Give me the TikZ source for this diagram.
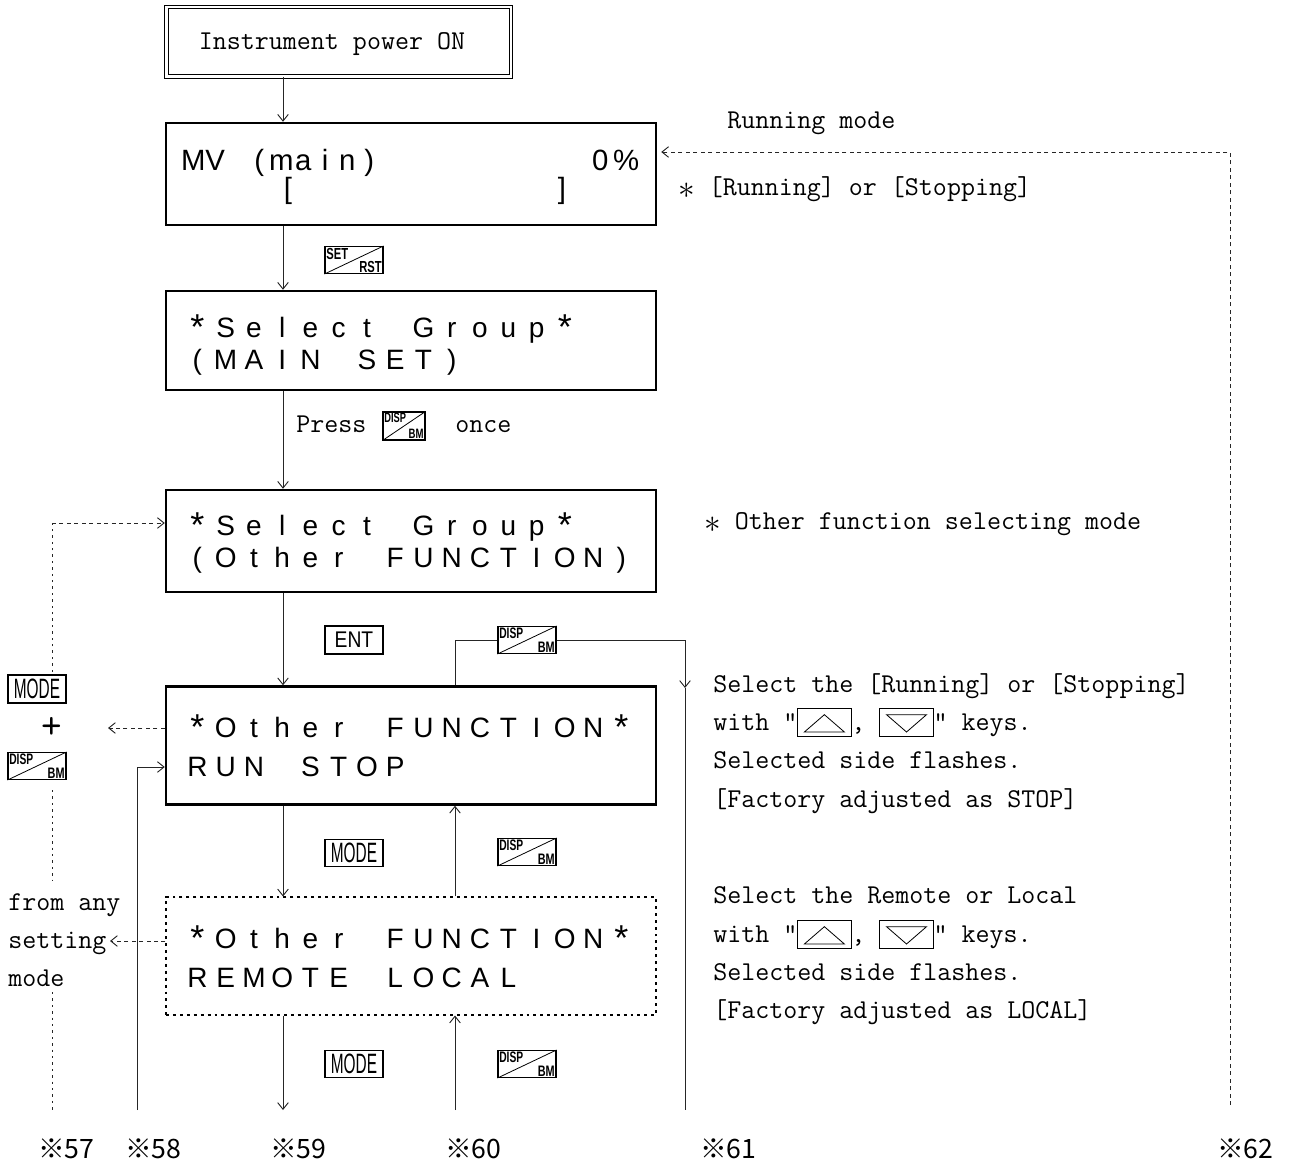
\documentclass[tikz,border=0pt]{standalone}
\usepackage{fontspec}
\usepackage{graphicx}
\usetikzlibrary{arrows.meta,calc}
\newfontfamily\lcdfont{Liberation Sans}
\newfontfamily\cjkfont{Noto Sans CJK JP}
\newlength\lcdw
\newcommand\lcdrow[2]{\setlength\lcdw{#1}\lcdloop#2\relax}
\def\lcdloop#1{\ifx#1\relax\else\makebox[\lcdw][c]{#1}\expandafter\lcdloop\fi}
\newcommand\lst{\raisebox{-2pt}{\fontsize{27pt}{27pt}\selectfont *}}
\newcommand\bigast{\raisebox{-2.5pt}{\fontsize{26pt}{26pt}\selectfont$\ast$}}
\newcommand\upkey{\tikz[x=1pt,y=1pt,baseline=0pt,line width=0.6pt]{\draw (0,-5) rectangle (40,16); \draw (5,-1.5) -- (35,-1.5) -- (20,11.5) -- cycle;}}
\newcommand\dnkey{\tikz[x=1pt,y=1pt,baseline=0pt,line width=0.6pt]{\draw (0,-5) rectangle (40,16); \draw (5,11.5) -- (35,11.5) -- (20,-1.5) -- cycle;}}
\newcommand\dkey[5][dk]{%
  \node[#1] (#2) at (#3) {};
  \draw[kline] (#2.south west) -- (#2.north east);
  \node[ktxt,anchor=north west] (#2-t) at (#2.north west) {#4};
  \node[ktxt,anchor=south east] (#2-b) at (#2.south east) {#5};}
\begin{document}
\begin{tikzpicture}[x=0.75pt,y=-0.75pt,
 conn/.style={line width=0.7pt, draw=black!85},
 arr/.style={conn, -{Straight Barb[length=5pt,width=8pt]}},
 dsh/.style={dash pattern=on 3pt off 2.6pt},
 dotln/.style={dash pattern=on 1.8pt off 3pt},
 bigbox/.style={draw, line width=1.8pt, minimum width=367.5pt, inner sep=0},
 dbox/.style={draw, line width=0.8pt, dash pattern=on 2.2pt off 3pt, minimum width=367.5pt, inner sep=0},
 dbl/.style={draw, double, double distance=2pt, line width=0.7pt, minimum width=258.4pt, minimum height=52.1pt, inner sep=0},
 mono/.style={font=\ttfamily\fontsize{20.4pt}{24pt}\selectfont, inner sep=0, anchor=base west},
 lcd/.style={font=\lcdfont\fontsize{21pt}{24pt}\selectfont, inner sep=0, anchor=base west},
 lcdb/.style={font=\lcdfont\fontsize{22pt}{24pt}\selectfont, inner sep=0, anchor=base west},
 dk/.style={draw, line width=0.8pt, minimum width=43.5pt, minimum height=20.25pt, inner sep=0},
 dks/.style={dk, minimum width=31.5pt, minimum height=21pt},
 kline/.style={line width=0.6pt},
 ktxt/.style={font=\lcdfont\bfseries\fontsize{12pt}{12pt}\selectfont, inner sep=1.2pt},
 tkey/.style={draw, line width=0.8pt, minimum width=43.5pt, minimum height=20.25pt, inner sep=0, font=\lcdfont\fontsize{21pt}{21pt}\selectfont},
 lab/.style={font=\cjkfont\fontsize{20pt}{22pt}\selectfont, inner sep=0, anchor=base west}
]
\useasboundingbox (0,0) rectangle (1289,1163);

% main boxes
\node[dbl] (pw) at (338.75,41.75) {};
\node[mono, anchor=base] (pwt) at (332,50) {Instrument power ON};

\node[bigbox, minimum height=76.5pt] (mv) at (411,174) {};
\node[lcdb] (mv1) at (182,170) {\lcdrow{16.5pt}{MV~(main)}};
\node[lcdb] (mv2) at (587,170) {\lcdrow{19.5pt}{0\%}};
\node[lcdb, anchor=base] (mv3) at (288,198) {[};
\node[lcdb, anchor=base] (mv4) at (562,198) {]};

\node[bigbox, minimum height=74.25pt] (b3) at (411,340.5) {};
\node[lcd] (b3a) at (183,337) {\lcdrow{21.2pt}{\lst Select~Group\lst}};
\node[lcd] (b3b) at (183,369) {\lcdrow{21.2pt}{(MAIN~SET)}};

\node[bigbox, minimum height=76.5pt] (b4) at (411,541) {};
\node[lcd] (b4a) at (183,535) {\lcdrow{21.2pt}{\lst Select~Group\lst}};
\node[lcd] (b4b) at (183,567) {\lcdrow{21.2pt}{(Other~FUNCTION)}};

\node[bigbox, minimum height=88.5pt] (b5) at (411,745.5) {};
\node[lcd] (b5a) at (183,737) {\lcdrow{21.2pt}{\lst Other~FUNCTION\lst}};
\node[lcd] (b5b) at (183,776) {\lcdrow{21.2pt}{RUN~STOP}};

\node[dbox, minimum height=88.5pt] (b6) at (411,956) {};
\node[lcd] (b6a) at (183,948) {\lcdrow{21.2pt}{\lst Other~FUNCTION\lst}};
\node[lcd] (b6b) at (183,987) {\lcdrow{21.2pt}{REMOTE~LOCAL}};

% keys
\dkey{kset}{354,260}{\scalebox{0.7}[1]{SET}}{\scalebox{0.7}[1]{RST}}
\dkey[dks]{kp}{404,426}{\scalebox{0.58}[0.85]{DISP}}{\scalebox{0.6}[0.85]{BM}}
\node[tkey, minimum height=21pt] (kent) at (354,640) {\scalebox{0.85}[1]{\fontsize{17pt}{17pt}\selectfont ENT}};
\dkey{kd1}{527,640}{\scalebox{0.64}[0.95]{DISP}}{\scalebox{0.68}[0.95]{BM}}
\node[tkey, minimum height=21pt] (mkL) at (37,689) {\scalebox{0.55}[1]{MODE}};
\node[font=\ttfamily\fontsize{30pt}{30pt}\selectfont, inner sep=0] (plus) at (52,728) {+};
\dkey{dkL}{37,766}{\scalebox{0.64}[0.95]{DISP}}{\scalebox{0.68}[0.95]{BM}}
\node[tkey] (km2) at (354,853) {\scalebox{0.55}[1]{MODE}};
\dkey{kd2}{527,852}{\scalebox{0.64}[0.95]{DISP}}{\scalebox{0.68}[0.95]{BM}}
\node[tkey] (km3) at (354,1064) {\scalebox{0.55}[1]{MODE}};
\dkey{kd3}{527,1064}{\scalebox{0.64}[0.95]{DISP}}{\scalebox{0.68}[0.95]{BM}}

% texts
\node[mono] (trm) at (727,128) {Running mode};
\node[mono] (trs) at (678,195) {\bigast\ [Running] or [Stopping]};
\node[mono] (tpr) at (296,432) {Press};
\node[mono] (ton) at (455,432) {once};
\node[mono] (tof) at (704,529) {\bigast\ Other function selecting mode};
\node[mono] (s1) at (713,692) {Select the [Running] or [Stopping]};
\node[mono] (s2) at (713,730) {with "\upkey, \dnkey" keys.};
\node[mono] (s3) at (713,768) {Selected side flashes.};
\node[mono] (s4) at (713,807) {[Factory adjusted as STOP]};
\node[mono] (r1) at (713,903) {Select the Remote or Local};
\node[mono] (r2) at (713,942) {with "\upkey, \dnkey" keys.};
\node[mono] (r3) at (713,980) {Selected side flashes.};
\node[mono] (r4) at (713,1018) {[Factory adjusted as LOCAL]};
\node[mono] (fa1) at (8,910) {from any};
\node[mono] (fa2) at (8,948) {setting};
\node[mono] (fa3) at (8,986) {mode};

% bottom labels
\node[lab] (n57) at (38,1158) {※57};
\node[lab] (n58) at (125,1158) {※58};
\node[lab] (n59) at (270,1158) {※59};
\node[lab] (n60) at (445,1158) {※60};
\node[lab] (n61) at (700,1158) {※61};
\node[lab] (n62) at (1217,1158) {※62};

% coordinates
\coordinate (xa) at (283,0);
\coordinate (xb) at (455,0);
\coordinate (e57) at (52,1110);
\coordinate (e58) at (137,1110);
\coordinate (e59) at (283,1110);
\coordinate (e60) at (455,1110);
\coordinate (e61) at (685,1110);
\coordinate (e62) at (1230,1105);
\coordinate (p62) at (1230,152);
\coordinate (a61) at (685,688);
\coordinate (q1) at (52,672);
\coordinate (q2) at (52,523);
\coordinate (q3) at (52,790);
\coordinate (q4) at (52,880);
\coordinate (q5) at (52,992);
\coordinate (tipA) at (108,728);
\coordinate (tipB) at (110,941);
\coordinate (s58) at (137,767);

% main flow
\draw[arr] (pw.south -| xa) -- (mv.north -| xa);
\draw[arr] (mv.south -| xa) -- (b3.north -| xa);
\draw[arr] (b3.south -| xa) -- (b4.north -| xa);
\draw[arr] (b4.south -| xa) -- (b5.north -| xa);
\draw[arr] (b5.south -| xa) -- (b6.north -| xa);
\draw[arr] (b6.north -| xb) -- (b5.south -| xb);
\draw[arr] (b6.south -| xa) -- (e59);
\draw[arr] (e60) -- (b6.south -| xb);

% DISP loop to 61
\draw[conn] (b5.north -| xb) |- (kd1.west);
\draw[arr] (kd1.east) -| (a61);
\draw[conn] (a61) -- (e61);

% left side
\draw[conn, dotln] (q1) -- (q2);
\draw[arr, dsh] (q2) -- (b4.west |- q2);
\draw[conn, dotln] (q3) -- (q4);
\draw[conn, dotln] (q5) -- (e57);
\draw[arr, dsh] (b5.west |- tipA) -- (tipA);
\draw[arr, dsh] (b6.west |- tipB) -- (tipB);
\draw[arr] (e58) -- (s58) -- (b5.west |- s58);

% right running-mode return
\draw[arr, dsh] (e62) -- (p62) -- ($(mv.east |- p62)+(4,0)$);
\end{tikzpicture}
\end{document}
